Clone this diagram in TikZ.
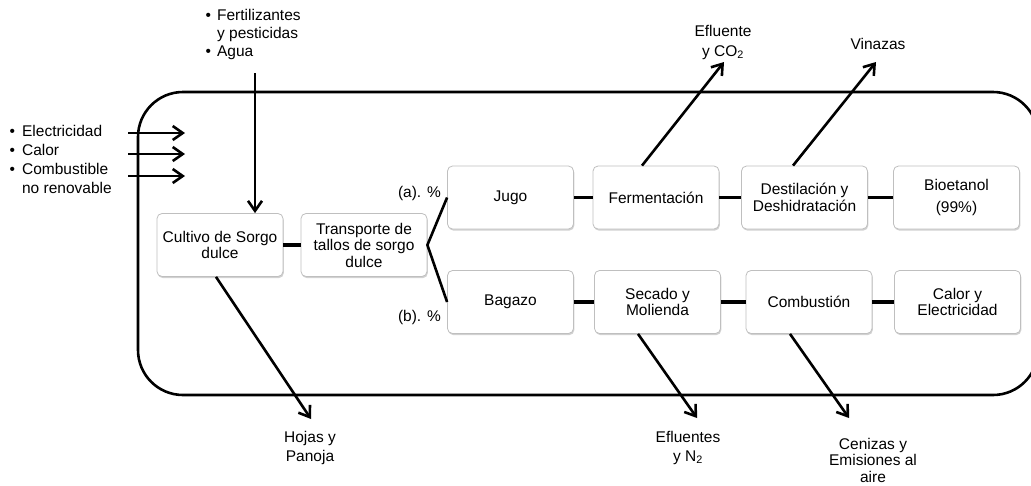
\documentclass[tikz,border=0pt]{standalone}
\usepackage{fontspec}
\setmainfont{Liberation Sans}
\usetikzlibrary{arrows.meta,shadows,calc}
\begin{document}
\begin{tikzpicture}[x=1pt,y=-1pt,
  every node/.style={font=\fontsize{15.5}{16.5}\selectfont},
  stage/.style={draw=black!25, line width=0.8pt, fill=white, rounded corners=5pt,
    minimum width=126pt, minimum height=63pt, align=center, inner sep=2pt,
    drop shadow={shadow xshift=0.8pt, shadow yshift=-1.6pt, opacity=0.3, fill=black!60}},
  link/.style={line width=3.5pt},
  branch/.style={line width=2.6pt},
  flow/.style={line width=2.6pt, -{Straight Barb[length=10pt,width=14pt]}},
  border/.style={line width=2.6pt, rounded corners=45pt},
  lbl/.style={align=center, inner sep=0pt}]
\useasboundingbox (0,0) rectangle (1031,485);

% system boundary
\draw[border] (138,92) rectangle (1038,395);

% process stages
\node[stage] (cultivo)    at (220,245)   {Cultivo de Sorgo\\dulce};
\node[stage] (transporte) at (364,245)   {Transporte de\\tallos de sorgo\\dulce};
\node[stage] (jugo)       at (510.5,197.5) {Jugo};
\node[stage] (ferm)       at (656,197.5) {Fermentación};
\node[stage] (destil)     at (804.5,197.5) {Destilación y\\Deshidratación};
\node[stage] (bio)        at (956.5,197.5) {Bioetanol\\[6pt](99\%)};
\node[stage] (bagazo)     at (510.5,302) {Bagazo};
\node[stage] (secado)     at (657.5,302) {Secado y\\Molienda};
\node[stage] (combust)    at (809,302)   {Combustión};
\node[stage] (calor)      at (957.5,302) {Calor y\\Electricidad};

% links between stages
\draw[link] (cultivo) -- (transporte);
\draw[link] (jugo) -- (ferm);
\draw[link] (ferm) -- (destil);
\draw[link] (destil) -- (bio);
\draw[link] (bagazo) -- (secado);
\draw[link] (secado) -- (combust);
\draw[link] (combust) -- (calor);

% split of the stalks
\draw[branch] (jugo.west) -- (transporte.east) -- (bagazo.west);
\node[anchor=east, inner sep=0pt] (pa) at (441,193) {(a). \%};
\node[anchor=east, inner sep=0pt] (pb) at (441,317) {(b). \%};

% inputs
\node[anchor=west, inner sep=0pt, font=\fontsize{15.5}{19}\selectfont] (inputs) at (9.5,161.5)
  {\begin{tabular}{@{}l@{\hspace{7pt}}l@{}}
   \textbullet & Electricidad\\
   \textbullet & Calor\\
   \textbullet & Combustible\\
               & no renovable
   \end{tabular}};
\coordinate (inA) at (128,133);
\coordinate (inB) at (128,154);
\coordinate (inC) at (128,176);
\draw[flow] (inA) -- ++(57,0);
\draw[flow] (inB) -- ++(57,0);
\draw[flow] (inC) -- ++(57,0);

\node[anchor=west, inner sep=0pt, font=\fontsize{15.5}{18}\selectfont] (agro) at (205.5,35)
  {\begin{tabular}{@{}l@{\hspace{6pt}}l@{}}
   \textbullet & Fertilizantes\\
               & y pesticidas\\
   \textbullet & Agua
   \end{tabular}};
\coordinate (agroin) at (255,73);
\draw[flow] (agroin) -- (agroin |- cultivo.north);

% outputs
\coordinate (tipHojas) at (311,419);
\coordinate (tipEflN)  at (697,418);
\coordinate (tipCen)   at (849,418);
\coordinate (tipCO)    at (724,62);
\coordinate (tipVin)   at (876,62);
\draw[flow] ($(cultivo.south)+(-4,0)$) -- (tipHojas);
\draw[flow] ($(secado.south)+(-19.5,0)$) -- (tipEflN);
\draw[flow] ($(combust.south)+(-19,0)$) -- (tipCen);
\draw[flow] ($(ferm.north)+(-14,0)$) -- (tipCO);
\draw[flow] ($(destil.north)+(-11.5,0)$) -- (tipVin);

\node[lbl, font=\fontsize{15.5}{19}\selectfont] (hojas) at (310,447.5) {Hojas y\\Panoja};
\node[lbl, font=\fontsize{15.5}{19}\selectfont] (efln) at (688,447.5) {Efluentes\\y N\textsubscript{2}};
\node[lbl, font=\fontsize{15.5}{16.5}\selectfont] (cen) at (873,460) {Cenizas y\\Emisiones al\\aire};
\node[lbl, font=\fontsize{15.5}{20}\selectfont] (eflco) at (723,42) {Efluente\\y CO\textsubscript{2}};
\node[lbl] (vin) at (878,44) {Vinazas};
\end{tikzpicture}
\end{document}
